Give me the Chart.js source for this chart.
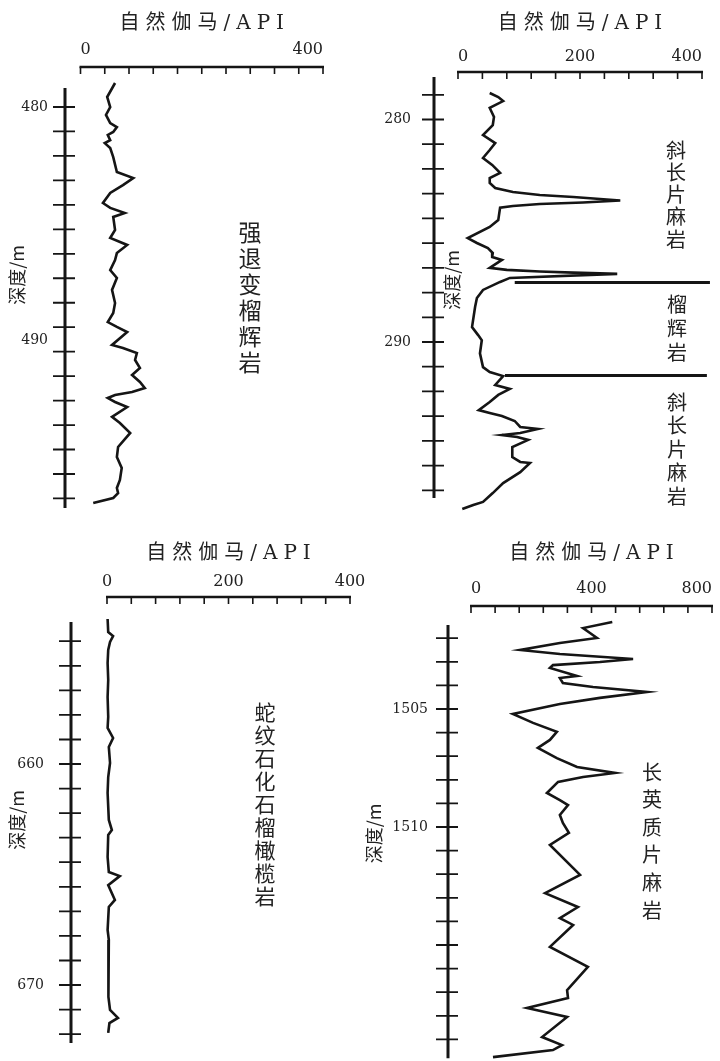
<!DOCTYPE html>
<html lang="zh-CN">
<head>
<meta charset="utf-8">
<title>自然伽马测井曲线</title>
<script src="https://cdn.jsdelivr.net/npm/chart.js@4.4.1/dist/chart.umd.min.js"></script>
<style>
  html, body { margin: 0; padding: 0; background: #fff; overflow: hidden; }
  body { width: 720px; height: 1061px; position: relative; }
  canvas { position: absolute; }
</style>
</head>
<body>
<canvas id="log1" width="355" height="530" style="left:0;top:0"></canvas>
<canvas id="log2" width="360" height="530" style="left:360px;top:0"></canvas>
<canvas id="log3" width="380" height="531" style="left:0;top:530px"></canvas>
<canvas id="log4" width="360" height="531" style="left:360px;top:530px"></canvas>
<script>
// ---------------- data ----------------
// Track 1: 强退变榴辉岩
const depth1 = [478.97, 479.57, 480.00, 480.34, 480.69, 480.86, 481.07, 481.20, 481.42, 481.55,
                481.76, 482.15, 482.79, 483.05, 483.35, 483.69, 484.12, 484.33, 484.55, 484.72,
                485.28, 485.62, 485.92, 486.27, 486.57, 487.00, 487.34, 487.85, 488.41, 488.84,
                489.23, 489.44, 489.66, 490.21, 490.34, 490.56, 490.86, 491.20, 491.50, 491.80,
                492.06, 492.23, 492.36, 492.49, 492.66, 492.88, 493.30, 493.56, 493.99, 494.59,
                495.02, 495.49, 496.01, 496.35, 496.57, 496.78, 497.00];
const gamma1 = [57, 44, 49, 42, 49, 60, 54, 45, 49, 40,
                49, 54, 60, 87, 70, 49, 37, 49, 73, 54,
                57, 49, 77, 60, 57, 49, 60, 52, 57, 54,
                45, 60, 77, 52, 70, 93, 90, 98, 85, 98,
                106, 85, 57, 45, 57, 77, 52, 65, 82, 62,
                60, 68, 65, 60, 62, 54, 21];
const gammaTicks1 = [0, 40, 80, 120, 160, 200, 240, 280, 320, 360, 400];
const gammaLabels1 = [0, 400];
const depthTicks1 = [480, 481.05, 482.1, 483.15, 484.2, 485.25, 486.3, 487.35, 488.4,
                     489.45, 490.5, 491.55, 492.6, 493.65, 494.7, 495.75, 496.8];
const depthLabels1 = [480, 490];
const depthSpan1 = [479.18, 497.21];
const rockNames1 = ['强退变榴辉岩'];

// Track 2: 斜长片麻岩 / 榴辉岩 / 斜长片麻岩
const depth2 = [278.81, 278.99, 279.17, 279.48, 279.89, 280.25, 280.70, 281.06, 281.37, 281.73,
                282.04, 282.40, 282.63, 282.85, 283.08, 283.26, 283.39, 283.48, 283.64, 283.73,
                283.80, 283.89, 283.96, 284.52, 284.83, 285.33, 285.55, 285.78, 286.00, 286.18,
                286.31, 286.67, 286.76, 286.83, 286.88, 286.94, 287.12, 287.30, 287.66, 288.02,
                288.43, 289.33, 289.69, 289.92, 290.51, 291.13, 291.35, 291.53, 291.93, 292.11,
                292.38, 292.70, 293.06, 293.19, 293.33, 293.55, 293.82, 293.91, 294.09, 294.18,
                294.27, 294.40, 294.72, 295.17, 295.39, 295.44, 295.85, 296.34, 296.79, 297.19,
                297.33, 297.51];
const gamma2 = [52, 66, 74, 52, 59, 57, 41, 61, 52, 41,
                56, 69, 52, 52, 61, 90, 134, 189, 266, 205,
                134, 90, 69, 66, 52, 16, 31, 49, 57, 56,
                72, 52, 80, 134, 189, 261, 85, 69, 41, 31,
                28, 23, 33, 39, 36, 41, 52, 74, 61, 85,
                66, 52, 34, 52, 72, 93, 102, 131, 102, 72,
                97, 115, 89, 89, 102, 118, 102, 74, 57, 41,
                25, 7];
const gammaTicks2 = [0, 40, 80, 120, 160, 200, 240, 280, 320, 360, 400];
const gammaLabels2 = [0, 200, 400];
const depthTicks2 = [278.89, 280, 281.11, 282.22, 283.33, 284.44, 285.56, 286.67, 287.78,
                     288.89, 290, 291.11, 292.22, 293.33, 294.44, 295.56, 296.67];
const depthLabels2 = [280, 290];
const depthSpan2 = [278.09, 297.01];
const boundaryDepths2 = [287.33, 291.51];
const boundaryFrom2 = [93, 77];
const boundaryTo2 = [413, 408];
const rockNames2 = ['斜长片麻岩', '榴辉岩', '斜长片麻岩'];

// Track 3: 蛇纹石化石榴橄榄岩
const depth3 = [653.44, 654.03, 654.21, 654.48, 654.84, 655.43, 656.20, 656.97, 657.87, 658.37,
                658.82, 659.23, 659.95, 660.59, 661.31, 662.53, 662.99, 663.21, 664.21, 664.89,
                665.07, 665.48, 666.15, 666.47, 667.51, 667.96, 668.73, 669.64, 670.54, 671.13,
                671.49, 671.72, 672.17];
const gamma3 = [1, 2, 10, 5, 2, 1, 2, 1, 2, 1,
                10, 3, 5, 2, 1, 3, 8, 2, 1, 3,
                21, 2, 13, 3, 1, 3, 2, 3, 2, 5,
                18, 4, 2];
const gammaTicks3 = [0, 40, 80, 120, 160, 200, 240, 280, 320, 360, 400];
const gammaLabels3 = [0, 200, 400];
const depthTicks3 = [654.44, 655.56, 656.67, 657.78, 658.89, 660, 661.11, 662.22, 663.33,
                     664.44, 665.56, 666.67, 667.78, 668.89, 670, 671.11, 672.22];
const depthLabels3 = [660, 670];
const depthSpan3 = [653.57, 672.62];
const rockNames3 = ['蛇纹石化石榴橄榄岩'];

// Track 4: 长英质片麻岩
const depth4 = [1501.31, 1501.57, 1501.78, 1501.99, 1502.20, 1502.50, 1502.67, 1502.88, 1503.01, 1503.14,
                1503.26, 1503.60, 1503.69, 1503.90, 1504.07, 1504.28, 1504.53, 1504.79, 1505.21, 1505.59,
                1505.97, 1506.31, 1506.65, 1507.08, 1507.46, 1507.71, 1507.88, 1508.09, 1508.56, 1508.86,
                1509.07, 1509.49, 1509.83, 1510.25, 1510.76, 1512.03, 1512.80, 1513.39, 1513.86, 1514.15,
                1515.08, 1515.93, 1516.91, 1517.25, 1517.67, 1518.05, 1518.90, 1519.24, 1519.45, 1519.75];
const gamma4 = [469, 372, 395, 418, 295, 163, 295, 538, 428, 272,
                262, 352, 295, 305, 405, 584, 428, 295, 139, 206,
                285, 262, 222, 285, 352, 478, 372, 289, 252, 295,
                322, 295, 305, 325, 262, 362, 246, 355, 295, 339,
                262, 388, 319, 322, 186, 319, 236, 302, 272, 73];
const gammaTicks4 = [0, 80, 160, 240, 320, 400, 480, 560, 640, 720, 800];
const gammaLabels4 = [0, 400, 800];
const depthTicks4 = [1502, 1503, 1504, 1505, 1506, 1507, 1508, 1509, 1510,
                     1511, 1512, 1513, 1514, 1515, 1516, 1517, 1518, 1519];
const depthLabels4 = [1505, 1510];
const depthSpan4 = [1501.44, 1519.8];
const rockNames4 = ['长英质片麻岩'];

const HEADING = '自然伽马/API';
const DEPTH_TITLE = '深度/m';

// ---------------- styling ----------------
const INK = '#151515';
const TEXT = '#222';
const NUM_FONT = '"DejaVu Serif", "Liberation Serif", serif';
const CJK_FONT = '"Noto Sans CJK SC", sans-serif';

// Draws the track frame (gamma axis on top, depth axis with crossing ticks),
// the heading and the vertical rock names, all positioned through the scales.
function trackPlugin(t) {
  return {
    id: 'track',
    beforeDatasetsDraw(chart) {
      const {ctx, chartArea} = chart;
      const xs = chart.scales.x, ys = chart.scales.y;
      ctx.save();
      ctx.strokeStyle = INK;
      ctx.fillStyle = TEXT;

      const top = chartArea.top;
      const xa = xs.getPixelForValue(t.gammaTicks[0]);
      const xb = xs.getPixelForValue(t.gammaTicks[t.gammaTicks.length - 1]);
      ctx.lineWidth = 2.4;
      ctx.beginPath(); ctx.moveTo(xa - 1, top); ctx.lineTo(xb + 1, top); ctx.stroke();
      ctx.lineWidth = 1.6;
      ctx.beginPath();
      t.gammaTicks.forEach(v => {
        const p = xs.getPixelForValue(v);
        ctx.moveTo(p, top); ctx.lineTo(p, top + 7);
      });
      ctx.stroke();

      const ax = ys.right;
      ctx.lineWidth = 3;
      ctx.beginPath();
      ctx.moveTo(ax, ys.getPixelForValue(t.depthSpan[0]));
      ctx.lineTo(ax, ys.getPixelForValue(t.depthSpan[1]));
      ctx.stroke();
      ctx.lineWidth = 1.8;
      ctx.beginPath();
      t.depthTicks.forEach(d => {
        const p = ys.getPixelForValue(d);
        ctx.moveTo(ax - 12, p); ctx.lineTo(ax + 10, p);
      });
      ctx.stroke();

      // heading above the gamma axis
      ctx.font = '20px "DejaVu Serif", "Noto Sans CJK SC"';
      const spacing = 6;
      const canSpace = 'letterSpacing' in ctx;
      if (canSpace) ctx.letterSpacing = spacing + 'px';
      ctx.textBaseline = 'middle';
      ctx.textAlign = 'left';
      const w = ctx.measureText(HEADING).width - (canSpace ? spacing : 0);
      ctx.fillText(HEADING, (xa + xb) / 2 - w / 2, xs.top + 24);
      if (canSpace) ctx.letterSpacing = '0px';

      // rock names, one character per line
      ctx.font = t.rockSize + 'px ' + CJK_FONT;
      ctx.textAlign = 'center';
      t.rocks.forEach(r => {
        const chars = Array.from(r.name);
        const x = xs.getPixelForValue(r.gamma);
        chars.forEach((c, i) => {
          const d = r.from + (r.to - r.from) * i / (chars.length - 1);
          ctx.fillText(c, x, ys.getPixelForValue(d));
        });
      });
      ctx.restore();
    }
  };
}

function curve(depths, values) {
  return depths.map((d, i) => ({x: values[i], y: d}));
}

function buildTrack(t) {
  const datasets = [{
    data: curve(t.depth, t.gamma),
    showLine: true, pointRadius: 0, borderColor: INK, borderWidth: 2.6,
    borderJoinStyle: 'miter', tension: 0, clip: false, xAxisID: 'x', yAxisID: 'y'
  }];
  (t.boundaries || []).forEach(b => datasets.push({
    data: [{x: b.from, y: b.depth}, {x: b.to, y: b.depth}],
    showLine: true, pointRadius: 0, borderColor: INK, borderWidth: 3,
    clip: false, xAxisID: 'x', yAxisID: 'y'
  }));

  const depthTitle = {
    display: true, text: DEPTH_TITLE, color: TEXT,
    font: {family: CJK_FONT, size: 18}, padding: {top: t.titlePad, bottom: 0}
  };
  // labels never need extra room beyond the fixed plot box
  const noEdgePadding = s => {
    s.paddingTop = 0; s.paddingBottom = 0; s.paddingLeft = 0; s.paddingRight = 0;
  };

  const scales = {
    x: {
      type: 'linear', position: 'top', min: t.xMin, max: t.xMax,
      afterFit: s => { s.height = t.topHeight; noEdgePadding(s); },
      afterBuildTicks: s => { s.ticks = t.gammaLabels.map(v => ({value: v})); },
      grid: {display: false, drawTicks: false}, border: {display: false},
      ticks: {
        autoSkip: false, maxRotation: 0, minRotation: 0, align: t.labelAlign,
        padding: t.labelPad, color: TEXT, font: {family: NUM_FONT, size: 16},
        callback: v => String(v)
      }
    },
    y: {
      type: 'linear', position: 'left', reverse: true, min: t.yMin, max: t.yMax, weight: 1,
      afterFit: s => { s.width = t.leftWidth; noEdgePadding(s); },
      afterBuildTicks: s => { s.ticks = t.depthLabels.map(v => ({value: v})); },
      grid: {display: false, drawTicks: false}, border: {display: false},
      ticks: {
        autoSkip: false, padding: t.depthLabelPad, color: TEXT,
        font: {family: NUM_FONT, size: 14}, callback: v => String(v)
      },
      title: t.titleInside ? {display: false} : depthTitle
    }
  };
  if (t.titleInside) {
    scales.yt = {
      type: 'linear', axis: 'y', position: 'left', reverse: true,
      min: t.yMin, max: t.yMax, weight: 0,
      afterFit: s => { s.width = t.innerWidth; noEdgePadding(s); },
      grid: {display: false, drawTicks: false}, border: {display: false},
      ticks: {display: false},
      title: depthTitle
    };
  }

  new Chart(document.getElementById(t.id), {
    type: 'scatter',
    data: {datasets},
    options: {
      responsive: false, animation: false, devicePixelRatio: 1, events: [],
      layout: {autoPadding: false, padding: {left: 0, right: 0, top: 0, bottom: t.padBottom}},
      plugins: {legend: {display: false}, tooltip: {enabled: false}},
      scales
    },
    plugins: [trackPlugin(t)]
  });
}

// ---------------- tracks ----------------
buildTrack({
  id: 'log1', depth: depth1, gamma: gamma1,
  gammaTicks: gammaTicks1, gammaLabels: gammaLabels1,
  depthTicks: depthTicks1, depthLabels: depthLabels1, depthSpan: depthSpan1,
  rocks: [{name: rockNames1[0], gamma: 279.6, from: 485.36, to: 490.94}], rockSize: 23,
  xMin: -25.57, xMax: 452.78, yMin: 478.283, yMax: 496.137,
  topHeight: 67, leftWidth: 65, padBottom: 47,
  labelAlign: 'inner', labelPad: 8, depthLabelPad: 17, titlePad: 6.2
});

buildTrack({
  id: 'log2', depth: depth2, gamma: gamma2,
  gammaTicks: gammaTicks2, gammaLabels: gammaLabels2,
  depthTicks: depthTicks2, depthLabels: depthLabels2, depthSpan: depthSpan2,
  boundaries: boundaryDepths2.map((d, i) => ({depth: d, from: boundaryFrom2[i], to: boundaryTo2[i]})),
  rocks: [
    {name: rockNames2[0], gamma: 357.4, from: 281.37, to: 285.37},
    {name: rockNames2[1], gamma: 359, from: 288.29, to: 290.45},
    {name: rockNames2[2], gamma: 359, from: 292.70, to: 296.92}
  ], rockSize: 20,
  xMin: 0, xMax: 429.5, yMin: 277.865, yMax: 296.562,
  topHeight: 72, leftWidth: 74, innerWidth: 24, padBottom: 42, titleInside: true,
  labelAlign: 'inner', labelPad: 5.5, depthLabelPad: 23, titlePad: 7.2
});

buildTrack({
  id: 'log3', depth: depth3, gamma: gamma3,
  gammaTicks: gammaTicks3, gammaLabels: gammaLabels3,
  depthTicks: depthTicks3, depthLabels: depthLabels3, depthSpan: depthSpan3,
  rocks: [{name: rockNames3[0], gamma: 260.1, from: 657.65, to: 665.97}], rockSize: 21,
  xMin: -59.26, xMax: 449.38, yMin: 652.443, yMax: 672.624,
  topHeight: 67, leftWidth: 71, padBottom: 18,
  labelAlign: 'center', labelPad: 5.5, depthLabelPad: 27, titlePad: 6.2
});

buildTrack({
  id: 'log4', depth: depth4, gamma: gamma4,
  gammaTicks: gammaTicks4, gammaLabels: gammaLabels4,
  depthTicks: depthTicks4, depthLabels: depthLabels4, depthSpan: depthSpan4,
  rocks: [{name: rockNames4[0], gamma: 600.8, from: 1507.67, to: 1513.52}], rockSize: 20,
  xMin: -76.35, xMax: 826.56, yMin: 1500.636, yMax: 1519.915,
  topHeight: 76, leftWidth: 88, padBottom: 0,
  labelAlign: 'inner', labelPad: 7.5, depthLabelPad: 20, titlePad: 3.2
});
</script>
</body>
</html>
